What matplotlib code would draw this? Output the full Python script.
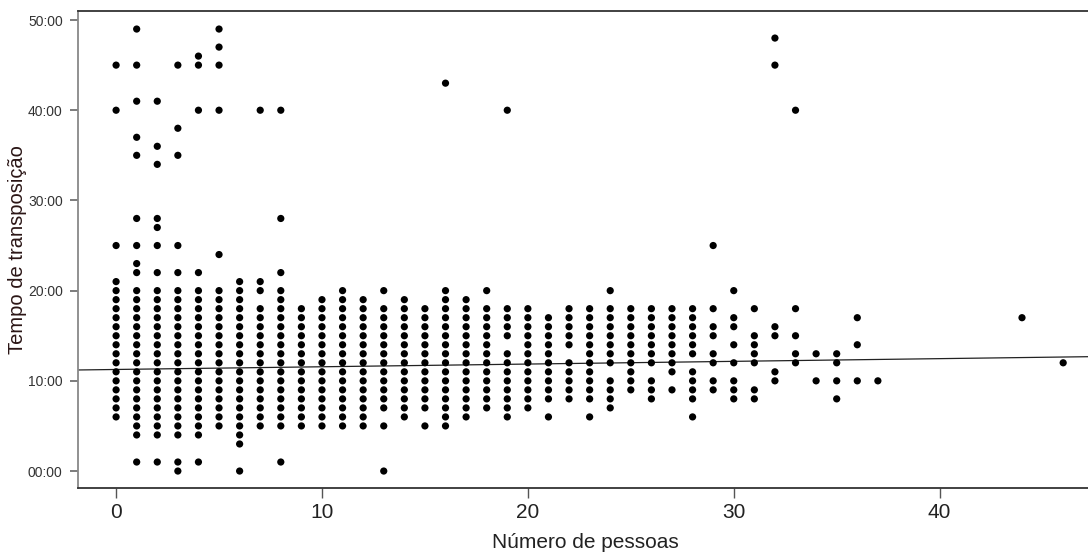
import numpy as np
import matplotlib
matplotlib.use("Agg")
import matplotlib.pyplot as plt
from matplotlib.ticker import FuncFormatter

# Tempo de transposição (minutos) por número de pessoas
n_pessoas = [0, 1, 2, 3, 4, 5, 6, 7, 8, 9, 10, 11, 12, 13, 14, 15, 16, 17, 18,
             19, 20, 21, 22, 23, 24, 25, 26, 27, 28, 29, 30, 31, 32, 33, 34,
             35, 36, 37, 44, 46]

t00 = [45, 40, 25, 21, 20, 19, 18, 17, 16, 15, 14, 13, 12, 11, 10, 9, 8, 7, 6]
t01 = [49, 45, 41, 37, 35, 28, 25, 23, 22, 20, 19, 18, 17, 16, 15, 14, 13, 12,
       11, 10, 9, 8, 7, 6, 5, 4, 1]
t02 = [41, 36, 34, 28, 27, 25, 22, 20, 19, 18, 17, 16, 15, 14, 13, 12, 11, 10,
       9, 8, 7, 6, 5, 4, 1]
t03 = [45, 38, 35, 25, 22, 20, 19, 18, 17, 16, 15, 14, 13, 12, 11, 10, 9, 8,
       7, 6, 5, 4, 1, 0]
t04 = [46, 45, 40, 22, 20, 19, 18, 17, 16, 15, 14, 13, 12, 11, 10, 9, 8, 7,
       6, 5, 4, 1]
t05 = [49, 47, 45, 40, 24, 20, 19, 18, 17, 16, 15, 14, 13, 12, 11, 10, 9, 8,
       7, 6, 5]
t06 = [21, 20, 19, 18, 17, 16, 15, 14, 13, 12, 11, 10, 9, 8, 7, 6, 5, 4, 3, 0]
t07 = [40, 21, 20, 18, 17, 16, 15, 14, 13, 12, 11, 10, 9, 8, 7, 6, 5]
t08 = [40, 28, 22, 20, 19, 18, 17, 16, 15, 14, 13, 12, 11, 10, 9, 8, 7, 6, 5, 1]
t09 = [18, 17, 16, 15, 14, 13, 12, 11, 10, 9, 8, 7, 6, 5]
t10 = [19, 18, 17, 16, 15, 14, 13, 12, 11, 10, 9, 8, 7, 6, 5]
t11 = [20, 19, 18, 17, 16, 15, 14, 13, 12, 11, 10, 9, 8, 7, 6, 5]
t12 = [19, 18, 17, 16, 15, 14, 13, 12, 11, 10, 9, 8, 7, 6, 5]
t13 = [20, 18, 17, 16, 15, 14, 13, 12, 11, 10, 9, 8, 7, 5, 0]
t14 = [19, 18, 17, 16, 15, 14, 13, 12, 11, 10, 9, 8, 7, 6]
t15 = [18, 17, 16, 15, 14, 13, 12, 11, 10, 9, 8, 7, 5]
t16 = [43, 20, 19, 18, 17, 16, 15, 14, 13, 12, 11, 10, 9, 8, 7, 6, 5]
t17 = [19, 18, 17, 16, 15, 14, 13, 12, 11, 10, 9, 8, 7, 6]
t18 = [20, 18, 17, 16, 15, 14, 13, 12, 11, 10, 9, 8, 7]
t19 = [40, 18, 17, 16, 15, 13, 12, 11, 10, 9, 8, 7, 6]
t20 = [18, 17, 16, 15, 14, 13, 12, 11, 10, 9, 8, 7]
t21 = [17, 16, 15, 14, 13, 12, 11, 10, 9, 8, 6]
t22 = [18, 17, 16, 15, 14, 12, 11, 10, 9, 8]
t23 = [18, 17, 16, 15, 14, 13, 12, 11, 10, 9, 8, 6]
t24 = [20, 18, 17, 16, 15, 14, 13, 12, 10, 9, 8, 7]
t25 = [18, 17, 16, 15, 14, 13, 12, 11, 10, 9]
t26 = [18, 17, 16, 15, 14, 13, 12, 10, 9, 8]
t27 = [18, 17, 16, 15, 14, 13, 12, 11, 9]
t28 = [18, 17, 16, 15, 14, 13, 11, 10, 9, 8, 6]
t29 = [25, 18, 16, 15, 13, 12, 10, 9]
t30 = [20, 17, 16, 14, 12, 10, 9, 8]
t31 = [18, 15, 14, 13, 12, 9, 8]
t32 = [48, 45, 16, 15, 11, 10]
t33 = [40, 18, 15, 13, 12]
t34 = [13, 10]
t35 = [13, 12, 10, 8]
t36 = [17, 14, 10]
t37 = [10]
t44 = [17]
t46 = [12]

tempos = [t00, t01, t02, t03, t04, t05, t06, t07, t08, t09, t10, t11, t12, t13,
          t14, t15, t16, t17, t18, t19, t20, t21, t22, t23, t24, t25, t26, t27,
          t28, t29, t30, t31, t32, t33, t34, t35, t36, t37, t44, t46]

# trend line (minutes)
trend_intercept = 11.26
trend_slope = 0.030

yticks = [0, 10, 20, 30, 40, 50]
xticks = [0, 10, 20, 30, 40]

xs = np.concatenate([[n] * len(t) for n, t in zip(n_pessoas, tempos)])
ys = np.concatenate(tempos).astype(float)

fig = plt.figure(figsize=(10.88, 5.53), dpi=100, facecolor="white")
ax = fig.add_axes([78 / 1088, 65 / 553, 1014 / 1088, 477 / 553])

ax.scatter(xs, ys, s=27, color="black", edgecolors="none", zorder=3)

xl = np.array([-1.85, 47.4])
ax.plot(xl, trend_intercept + trend_slope * xl, color="#222222",
        linewidth=0.9, zorder=2)

ax.set_xlim(-1.85, 47.4)
ax.set_ylim(-1.88, 51.0)

ax.set_xticks(xticks)
ax.set_yticks(yticks)
ax.yaxis.set_major_formatter(FuncFormatter(lambda v, p: f"{int(v):02d}:00"))

for s in ["top", "bottom"]:
    ax.spines[s].set_color("#333333")
ax.spines["left"].set_color("#888888")
ax.spines["right"].set_visible(False)
for s in ax.spines.values():
    s.set_linewidth(1.3)

ax.tick_params(axis="y", length=6, width=1.2, color="#666666", pad=5,
               labelsize=10, labelcolor="#333333")
ax.tick_params(axis="x", length=7, width=1.0, color="#555555", pad=4,
               labelsize=15, labelcolor="#222222")
for lab in ax.get_yticklabels():
    lab.set_fontfamily("Liberation Sans")
for lab in ax.get_xticklabels():
    lab.set_fontfamily("Liberation Sans")

ax.set_xlabel("Número de pessoas", fontsize=15, color="#222222", labelpad=8,
              family="Liberation Sans")
ax.set_ylabel("Tempo de transposição", fontsize=14.5, color="#2a1515",
              family="Liberation Sans")
ax.yaxis.set_label_coords(-0.05, 0.5)

fig.savefig("out.png", dpi=100, facecolor="white")
